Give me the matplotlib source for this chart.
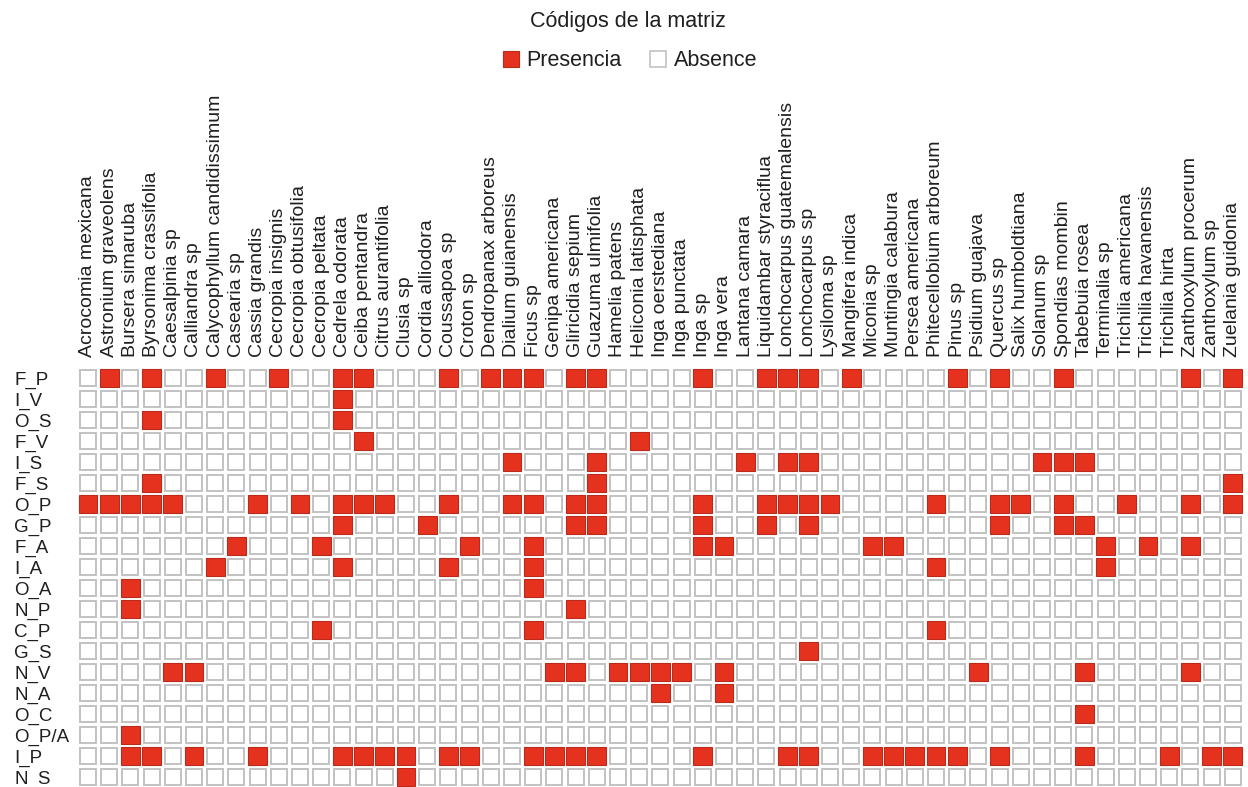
import matplotlib
matplotlib.use("Agg")
import matplotlib.pyplot as plt
from matplotlib.patches import Rectangle, Patch

# ---------------- data ----------------
species = [
    "Acrocomia mexicana", "Astronium graveolens", "Bursera simaruba",
    "Byrsonima crassifolia", "Caesalpinia sp", "Calliandra sp",
    "Calycophyllum candidissimum", "Casearia sp", "Cassia grandis",
    "Cecropia insignis", "Cecropia obtusifolia", "Cecropia peltata",
    "Cedrela odorata", "Ceiba pentandra", "Citrus aurantifolia", "Clusia sp",
    "Cordia alliodora", "Coussapoa sp", "Croton sp", "Dendropanax arboreus",
    "Dialium guianensis", "Ficus sp", "Genipa americana", "Gliricidia sepium",
    "Guazuma ulmifolia", "Hamelia patens", "Heliconia latisphata",
    "Inga oerstediana", "Inga punctata", "Inga sp", "Inga vera",
    "Lantana camara", "Liquidambar styraciflua", "Lonchocarpus guatemalensis",
    "Lonchocarpus sp", "Lysiloma sp", "Mangifera indica", "Miconia sp",
    "Muntingia calabura", "Persea americana", "Phitecellobium arboreum",
    "Pinus sp", "Psidium guajava", "Quercus sp", "Salix humboldtiana",
    "Solanum sp", "Spondias mombin", "Tabebuia rosea", "Terminalia sp",
    "Trichilia americana", "Trichilia havanensis", "Trichilia hirta",
    "Zanthoxylum procerum", "Zanthoxylum sp", "Zuelania guidonia",
]

codes = ["F_P", "I_V", "O_S", "F_V", "I_S", "F_S", "O_P", "G_P", "F_A", "I_A",
         "O_A", "N_P", "C_P", "G_S", "N_V", "N_A", "O_C", "O_P/A", "I_P", "N_S"]

# indices (into species) where each code is present
presence_cols = [
    [1, 3, 6, 9, 12, 13, 17, 19, 20, 21, 23, 24, 29, 32, 33, 34, 36, 41, 43, 46, 52, 54],  # F_P
    [12],                                                                                  # I_V
    [3, 12],                                                                               # O_S
    [13, 26],                                                                              # F_V
    [20, 24, 31, 33, 34, 45, 46, 47],                                                      # I_S
    [3, 24, 54],                                                                           # F_S
    [0, 1, 2, 3, 4, 8, 10, 12, 13, 14, 17, 20, 21, 23, 24, 29, 32, 33, 34, 35, 40, 43,
     44, 46, 49, 52, 54],                                                                  # O_P
    [12, 16, 23, 24, 29, 32, 34, 43, 46, 47],                                              # G_P
    [7, 11, 18, 21, 29, 30, 37, 38, 48, 50, 52],                                           # F_A
    [6, 12, 17, 21, 40, 48],                                                               # I_A
    [2, 21],                                                                               # O_A
    [2, 23],                                                                               # N_P
    [11, 21, 40],                                                                          # C_P
    [34],                                                                                  # G_S
    [4, 5, 22, 23, 25, 26, 27, 28, 30, 42, 47, 52],                                        # N_V
    [27, 30],                                                                              # N_A
    [47],                                                                                  # O_C
    [2],                                                                                   # O_P/A
    [2, 3, 5, 8, 12, 13, 14, 15, 17, 18, 21, 22, 23, 24, 29, 33, 34, 37, 38, 39, 40, 41,
     43, 47, 51, 53, 54],                                                                  # I_P
    [15],                                                                                  # N_S
]

legend_labels = ["Presencia", "Absence"]
title = "Códigos de la matriz"

# ---------------- style ----------------
RED = "#e5321f"
RED_EDGE = "#b92a1b"
GRID = "#c2c2c2"
TXT = "#1f1f1f"
FONT = ["Liberation Sans", "DejaVu Sans"]
plt.rcParams["font.family"] = FONT

W, H = 1248, 787
fig = plt.figure(figsize=(W / 100, H / 100), dpi=100)
fig.patch.set_facecolor("white")

pitch_x, pitch_y = 21.2, 21.0
left_px = 88 - pitch_x / 2
top_px = 378 - pitch_y / 2
width_px = pitch_x * len(species)
height_px = pitch_y * len(codes)
ax = fig.add_axes([left_px / W, (H - top_px - height_px) / H, width_px / W, height_px / H])
ax.set_xlim(-0.5, len(species) - 0.5)
ax.set_ylim(len(codes) - 0.5, -0.5)

s_empty = 0.76
s_full = 0.88
for j, code in enumerate(codes):
    present = set(presence_cols[j])
    for i in range(len(species)):
        if i in present:
            ax.add_patch(Rectangle((i - s_full / 2, j - s_full / 2), s_full, s_full,
                                   facecolor=RED, edgecolor=RED_EDGE, linewidth=0.8,
                                   clip_on=False))
        else:
            ax.add_patch(Rectangle((i - s_empty / 2, j - s_empty / 2), s_empty, s_empty,
                                   facecolor="white", edgecolor=GRID, linewidth=1.4,
                                   clip_on=False))

for sp in ax.spines.values():
    sp.set_visible(False)
ax.set_facecolor("white")

ax.xaxis.tick_top()
ax.set_xticks(range(len(species)))
ax.set_xticklabels(species, rotation=90, fontsize=14, color=TXT)
ax.tick_params(axis="x", length=0, pad=7.5)

ax.set_yticks(range(len(codes)))
ax.set_yticklabels(codes, fontsize=13.5, color=TXT)
ax.tick_params(axis="y", length=0, pad=(left_px - 14) * 72 / 100)
for lab in ax.get_yticklabels():
    lab.set_horizontalalignment("left")

fig.text(628 / W, 1 - 22 / H, title, ha="center", va="center", fontsize=15.5, color=TXT)

handles = [Patch(facecolor=RED, edgecolor=RED_EDGE, linewidth=0.8),
           Patch(facecolor="white", edgecolor=GRID, linewidth=1.2)]
fig.legend(handles, legend_labels, loc="center", bbox_to_anchor=(630 / W, 1 - 61 / H),
           ncol=2, frameon=False, fontsize=15.5, handlelength=0.75, handleheight=0.75,
           handletextpad=0.35, columnspacing=1.3, labelcolor=TXT)

fig.savefig("out.png", dpi=100, facecolor="white")
